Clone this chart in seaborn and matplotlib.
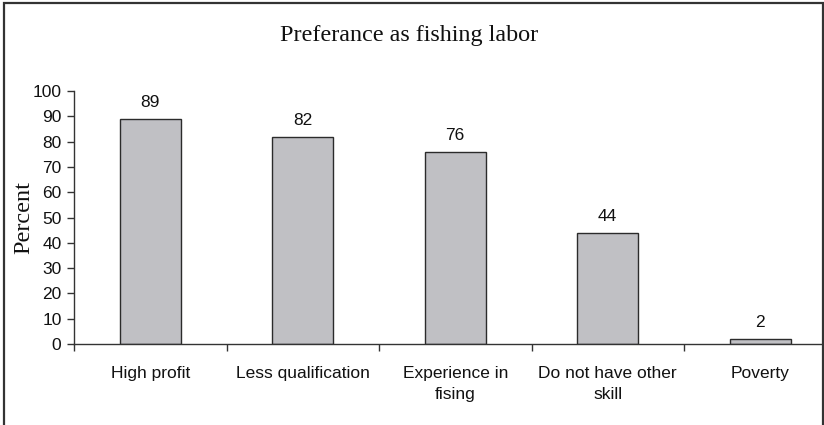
import matplotlib
matplotlib.use("Agg")
import matplotlib.pyplot as plt
import seaborn as sns
from matplotlib.patches import Rectangle
from matplotlib.ticker import FixedLocator

categories = ["High profit", "Less qualification", "Experience in\nfising",
              "Do not have other\nskill", "Poverty"]
percent = [89, 82, 76, 44, 2]
y_ticks = list(range(0, 101, 10))

sns.set_theme(style="white")
plt.rcParams["font.family"] = ["Liberation Sans", "DejaVu Sans"]

W, H = 824, 425
fig = plt.figure(figsize=(W / 100, H / 100), dpi=100)
# plot area spans past the right edge of the canvas
ax = fig.add_axes([74 / W, 81 / H, 762.5 / W, 253 / H])

sns.barplot(x=categories, y=percent, color="#c0c0c4", edgecolor="#2b2b2b",
            linewidth=1.0, width=0.4, saturation=1, ax=ax)

ax.set_ylim(0, 100)
ax.set_yticks(y_ticks)
ax.set_xlim(-0.5, len(categories) - 0.5)

for spine in ["top", "right"]:
    ax.spines[spine].set_visible(False)
for spine in ["left", "bottom"]:
    ax.spines[spine].set_color("#333333")
    ax.spines[spine].set_linewidth(1.0)

tick_size = 12.5
ax.tick_params(axis="y", which="major", direction="out", length=5, width=1,
               color="#333333", pad=4, labelsize=tick_size, labelcolor="#111111", left=True)
ax.tick_params(axis="x", which="major", length=0, pad=16, labelsize=tick_size,
               labelcolor="#111111")
ax.xaxis.set_minor_locator(FixedLocator([i - 0.5 for i in range(len(categories) + 1)]))
ax.tick_params(axis="x", which="minor", direction="out", length=5, width=1,
               color="#333333", bottom=True)
for lbl in ax.get_xticklabels():
    lbl.set_linespacing(1.45)
    lbl.set_verticalalignment("top")

for i, v in enumerate(percent):
    ax.annotate(str(v), (i, v), xytext=(0, 6.5), textcoords="offset points",
                ha="center", va="bottom", fontsize=tick_size, color="#111111")

ax.set_ylabel("Percent", family=["Liberation Serif", "DejaVu Serif"], fontsize=17.5,
              color="#111111", labelpad=-1.5)
ax.set_xlabel("")

fig.text(409 / W, 1 - 35 / H, "Preferance as fishing labor",
         family=["Liberation Serif", "DejaVu Serif"], fontsize=17.4,
         ha="center", va="center", color="#111111")

# outer frame (open at the bottom edge of the canvas)
fig.patches.append(Rectangle((3.5 / W, -0.05), (822.5 - 3.5) / W, 1.05 - 3 / H,
                             transform=fig.transFigure, fill=False,
                             edgecolor="#333333", linewidth=1.6))

fig.savefig("out.png", dpi=100)
